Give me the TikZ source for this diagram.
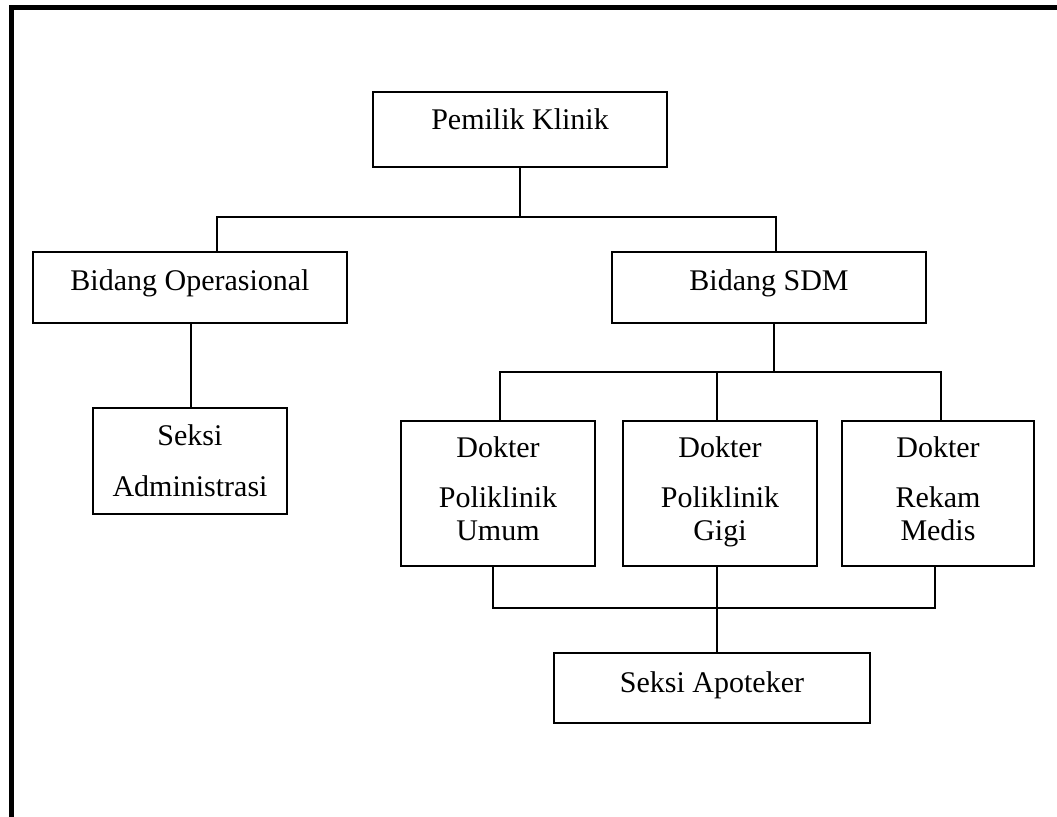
\documentclass[tikz,border=0pt]{standalone}
\usepackage{fontspec}
\setmainfont{Liberation Serif}
\usetikzlibrary{fit}
\begin{document}
\begin{tikzpicture}[x=0.75pt,y=-0.75pt,
  box/.style={draw=black, line width=1.1pt, inner sep=0pt, fill=none},
  conn/.style={draw=black, line width=1.5pt},
  frame/.style={draw=black, line width=3.75pt},
  txt/.style={inner sep=0pt, anchor=base, font=\fontsize{22.5}{27}\selectfont}]
\useasboundingbox (0,0) rectangle (1057,817);
\fill[white] (0,0) rectangle (1057,817);
% frame (top and left only)
\coordinate (fa) at (11,817);
\coordinate (fb) at (11,8);
\coordinate (fc) at (1057,8);
\draw[frame] (fa) -- (fb) -- (fc);
% boxes
\node[box, fit={(373,92) (667,167)}] (pk) {};
\node[box, fit={(33,252) (347,323)}] (bo) {};
\node[box, fit={(612,252) (926,323)}] (bs) {};
\node[box, fit={(93,408) (287,514)}] (sa) {};
\node[box, fit={(401,421) (595,566)}] (d1) {};
\node[box, fit={(623,421) (817,566)}] (d2) {};
\node[box, fit={(842,421) (1034,566)}] (d3) {};
\node[box, fit={(554,653) (870,723)}] (ap) {};
% texts
\node[txt] (pkt) at (520,129) {Pemilik Klinik};
\node[txt] (bot) at (190,290) {Bidang Operasional};
\node[txt] (bst) at (769,290) {Bidang SDM};
\node[txt] (sat1) at (190,445) {Seksi};
\node[txt] (sat2) at (190,496) {Administrasi};
\node[txt] (d1t1) at (498,457) {Dokter};
\node[txt] (d1t2) at (498,507) {Poliklinik};
\node[txt] (d1t3) at (498,540) {Umum};
\node[txt] (d2t1) at (720,457) {Dokter};
\node[txt] (d2t2) at (720,507) {Poliklinik};
\node[txt] (d2t3) at (720,540) {Gigi};
\node[txt] (d3t1) at (938,457) {Dokter};
\node[txt] (d3t2) at (938,507) {Rekam};
\node[txt] (d3t3) at (938,540) {Medis};
\node[txt] (apt) at (712,692) {Seksi Apoteker};
% junction coordinates
\coordinate (h1l) at (217,217);
\coordinate (h1r) at (776,217);
\coordinate (h1m) at (520,217);
\coordinate (sdmb) at (774,323);
\coordinate (h2m) at (774,372);
\coordinate (h2l) at (500,372);
\coordinate (h2c) at (717,372);
\coordinate (h2r) at (941,372);
\coordinate (h3l) at (493,608);
\coordinate (h3c) at (717,608);
\coordinate (h3r) at (935,608);
\coordinate (opb) at (191,323);
% connectors
\draw[conn] (pk.south) -- (h1m);
\draw[conn] (bo.north -| h1l) -- (h1l) -- (h1r) -- (bs.north -| h1r);
\draw[conn] (opb) -- (sa.north -| opb);
\draw[conn] (sdmb) -- (h2m);
\draw[conn] (d1.north -| h2l) -- (h2l) -- (h2r) -- (d3.north -| h2r);
\draw[conn] (h2c) -- (d2.north -| h2c);
\draw[conn] (d1.south -| h3l) -- (h3l) -- (h3r) -- (d3.south -| h3r);
\draw[conn] (d2.south -| h3c) -- (ap.north -| h3c);
\end{tikzpicture}
\end{document}
